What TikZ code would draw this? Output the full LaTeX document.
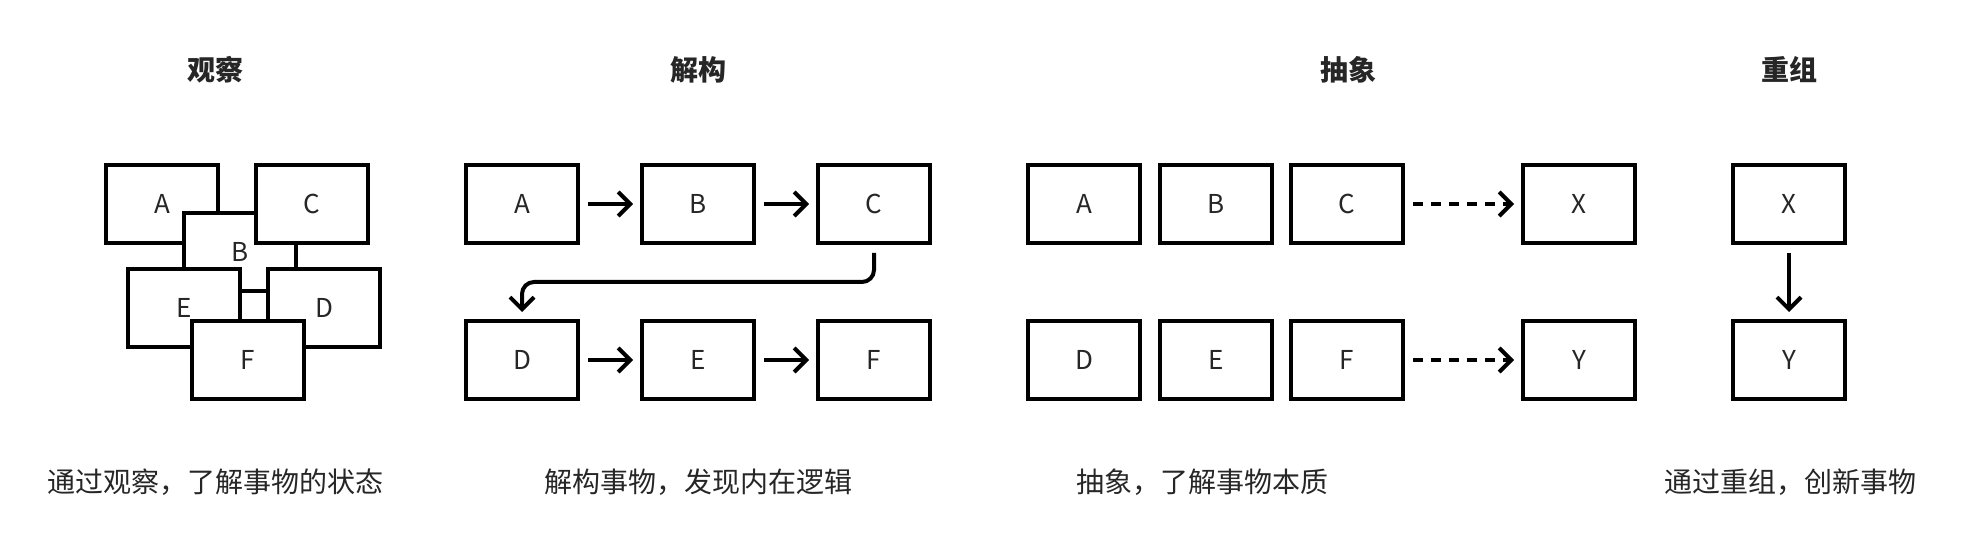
\documentclass[tikz,border=0pt]{standalone}
\usepackage{fontspec}
\setmainfont{Noto Sans CJK SC}
\usetikzlibrary{arrows.meta,calc}

\begin{document}
\begin{tikzpicture}[
    x=0.5pt, y=-0.5pt,
    box/.style={rectangle, draw=black, line width=2pt, fill=white,
      minimum width=56pt, minimum height=39pt, inner sep=0pt,
      font=\fontsize{13}{15}\selectfont, text=black!85},
    arr/.style={line width=2pt, -{Straight Barb[length=6pt,width=12pt]},
      shorten <=4pt, shorten >=3.5pt},
    title/.style={font=\fontsize{14}{16}\selectfont\bfseries, text=black!85},
    caption/.style={font=\fontsize{14}{16}\selectfont, text=black!85}
  ]
  \useasboundingbox (0,0) rectangle (1964,550);

  % titles
  \node[title] (tobs) at (215,70) {观察};
  \node[title] (tdec) at (698,70) {解构};
  \node[title] (tabs) at (1348,70) {抽象};
  \node[title] (trec) at (1789,70) {重组};

  % observe: overlapping boxes
  \node[box] (obsA) at (162,204) {A};
  \node[box] (obsB) at (240,252) {B};
  \node[box] (obsC) at (312,204) {C};
  \node[box] (obsE) at (184,308) {E};
  \node[box] (obsD) at (324,308) {D};
  \node[box] (obsF) at (248,360) {F};

  % deconstruct
  \node[box] (decA) at (522,204) {A};
  \node[box] (decB) at (698,204) {B};
  \node[box] (decC) at (874,204) {C};
  \node[box] (decD) at (522,360) {D};
  \node[box] (decE) at (698,360) {E};
  \node[box] (decF) at (874,360) {F};
  \draw[arr] (decA) -- (decB);
  \draw[arr] (decB) -- (decC);
  \draw[arr, rounded corners=6pt] (decC.south)
    |- ($(decC.south)!.5!(decD.north)$) -| (decD.north);
  \draw[arr] (decD) -- (decE);
  \draw[arr] (decE) -- (decF);

  % abstract
  \node[box] (absA) at (1084,204) {A};
  \node[box] (absB) at (1216,204) {B};
  \node[box] (absC) at (1347,204) {C};
  \node[box] (absX) at (1579,204) {X};
  \node[box] (absD) at (1084,360) {D};
  \node[box] (absE) at (1216,360) {E};
  \node[box] (absF) at (1347,360) {F};
  \node[box] (absY) at (1579,360) {Y};
  \draw[arr, dash pattern=on 5pt off 4pt] (absC) -- (absX);
  \draw[arr, dash pattern=on 5pt off 4pt] (absF) -- (absY);

  % recombine
  \node[box] (recX) at (1789,204) {X};
  \node[box] (recY) at (1789,360) {Y};
  \draw[arr] (recX) -- (recY);

  % captions
  \node[caption] (cobs) at (215,482) {通过观察，了解事物的状态};
  \node[caption] (cdec) at (698,482) {解构事物，发现内在逻辑};
  \node[caption] (cabs) at (1202,482) {抽象，了解事物本质};
  \node[caption] (crec) at (1790,482) {通过重组，创新事物};
\end{tikzpicture}
\end{document}
